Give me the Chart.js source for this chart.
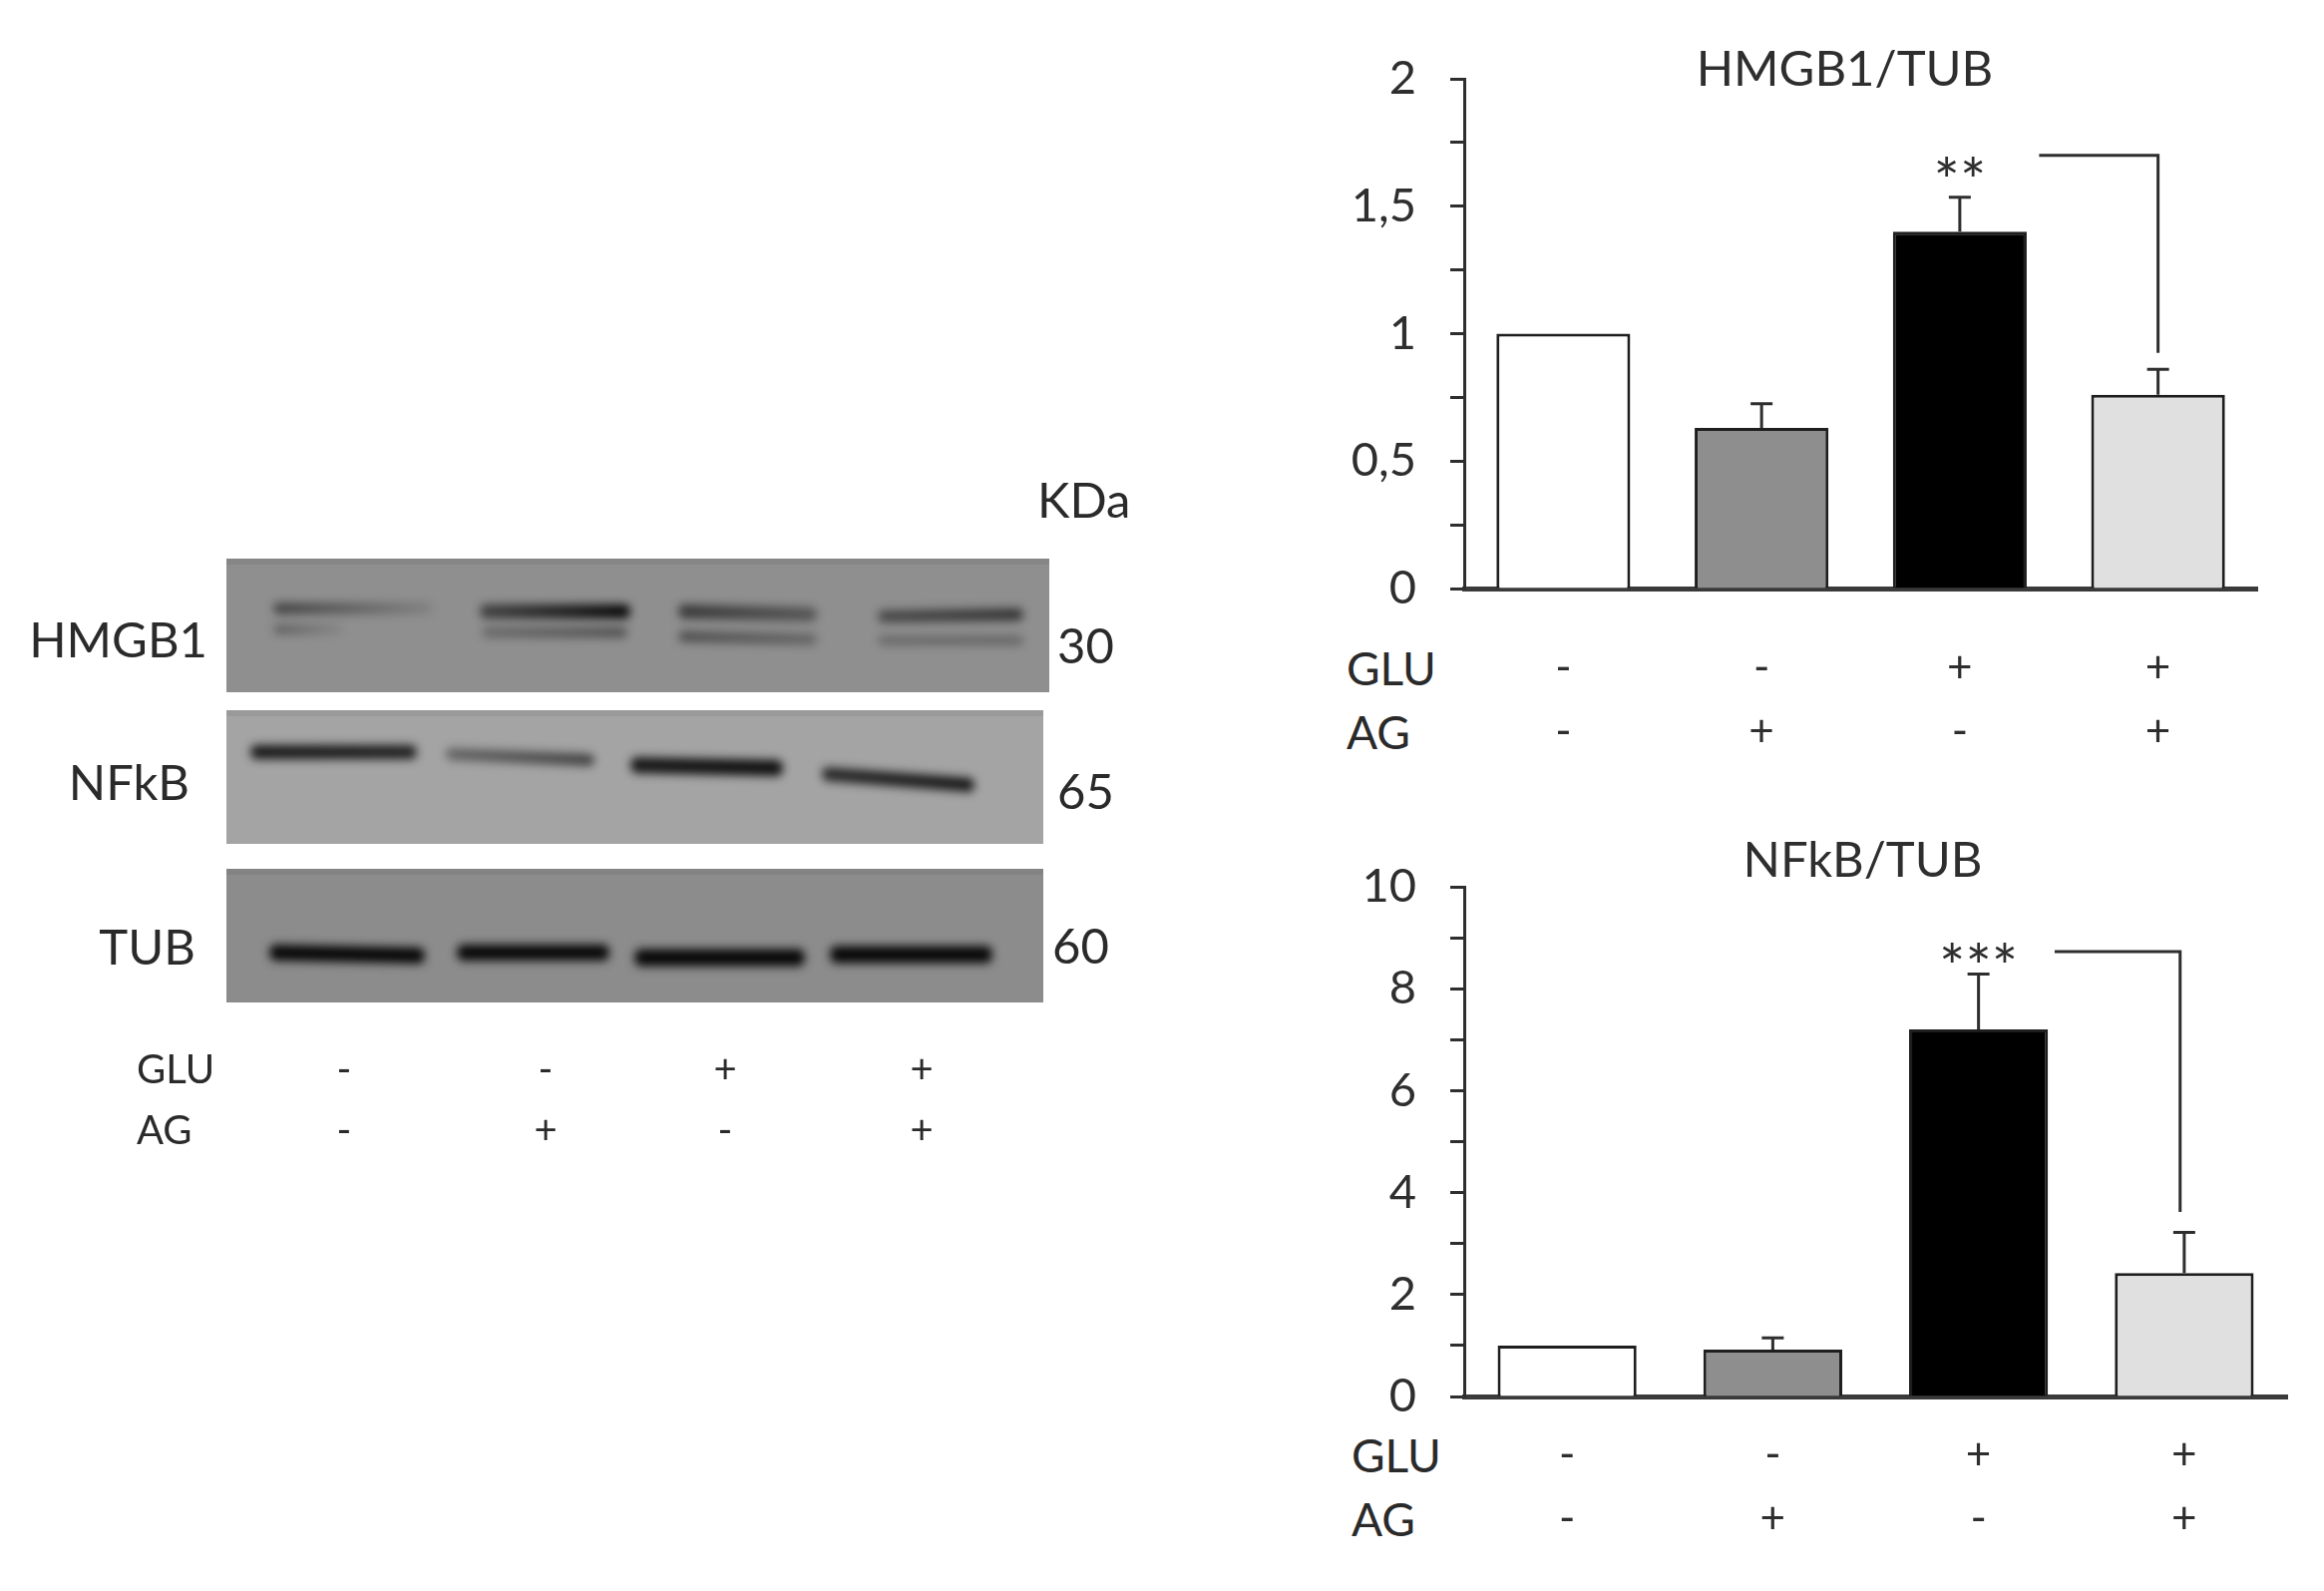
<!DOCTYPE html>
<html>
<head>
<meta charset="utf-8">
<script src="https://cdn.jsdelivr.net/npm/chart.js@4.4.1/dist/chart.umd.min.js"></script>
<style>
  body { margin: 0; width: 2330px; height: 1595px; background: #fff; position: relative; overflow: hidden;
         font-family: Lato, "Open Sans", sans-serif; color: #2a2a2a; }
  .lbl { position: absolute; font-size: 46px; line-height: 1; white-space: nowrap; transform: translateY(-50%); }
  .big { font-size: 49px; }
  .sm { font-size: 40px; }
  .r { text-align: right; }
  .c { transform: translate(-50%, -50%); }
  canvas { position: absolute; }
  #wrap1 { position: absolute; left: 1300px; top: 0; width: 1000px; height: 780px; }
  #wrap2 { position: absolute; left: 1300px; top: 800px; width: 1000px; height: 780px; }
</style>
</head>
<body>
<canvas id="blot" width="1160" height="1100" style="left:0;top:0"></canvas>
<div class="lbl big" style="left:1040px;top:500px">KDa</div>
<div class="lbl big r" style="right:2122px;top:640px">HMGB1</div>
<div class="lbl big r" style="right:2140px;top:783px">NFkB</div>
<div class="lbl big r" style="right:2134px;top:948px">TUB</div>
<div class="lbl big" style="left:1060px;top:646px">30</div>
<div class="lbl big" style="left:1060px;top:792px">65</div>
<div class="lbl big" style="left:1055px;top:947px">60</div>
<div class="lbl sm" style="left:137px;top:1071px">GLU</div>
<div class="lbl sm" style="left:137px;top:1132px">AG</div>
<div id="blotSigns"></div>

<div class="lbl" style="left:1350px;top:670px">GLU</div>
<div class="lbl" style="left:1350px;top:734px">AG</div>
<div class="lbl" style="left:1355px;top:1459px">GLU</div>
<div class="lbl" style="left:1355px;top:1523px">AG</div>

<div id="wrap1"><canvas id="c1"></canvas></div>
<div id="wrap2"><canvas id="c2"></canvas></div>

<script>
// treatment table
const glu = ['-', '-', '+', '+'];
const ag = ['-', '+', '-', '+'];

// HMGB1/TUB
const hmgbMean = [1.0, 0.63, 1.40, 0.76];
const hmgbSem = [0, 0.095, 0.135, 0.10];
const hmgbTicks = ['0', '0,5', '1', '1,5', '2'];

// NFkB/TUB
const nfkbMean = [1.0, 0.92, 7.2, 2.42];
const nfkbSem = [0, 0.23, 1.09, 0.8];
const nfkbTicks = ['0', '2', '4', '6', '8', '10'];

const barColors = ['#ffffff', '#8e8e8e', '#000000', '#e0e0e0'];
const ink = '#2e2e2e';
const font = 'Lato, "Open Sans", sans-serif';

const labels = glu.map((g, i) => [g, ag[i]]);

// western blot (picture, not data)
const blotLanes = [345, 547, 727, 924];
const signs = document.getElementById('blotSigns');
blotLanes.forEach((x, i) => {
  signs.insertAdjacentHTML('beforeend',
    `<div class="lbl sm c" style="left:${x}px;top:1071px">${glu[i]}</div>` +
    `<div class="lbl sm c" style="left:${x}px;top:1132px">${ag[i]}</div>`);
});

const g = document.getElementById('blot').getContext('2d');
const panels = [
  [227, 560, 825, 134, '#8f8f8f'],
  [227, 712, 819, 134, '#a4a4a4'],
  [227, 871, 819, 134, '#8c8c8c']
];
panels.forEach(([x, y, w, h, c]) => {
  g.fillStyle = c;
  g.fillRect(x, y, w, h);
  g.fillStyle = 'rgba(0,0,0,0.06)';
  g.fillRect(x, y, w, 6);
});
// x1, x2, centre y, height, darkness left, darkness right, drop at right end
const bands = [
  [278, 430, 610, 11, 0.55, 0.10, 0], [278, 340, 631, 9, 0.35, 0.08, 0],
  [485, 628, 613, 14, 0.55, 0.95, 0], [487, 625, 634, 10, 0.28, 0.45, 0],
  [684, 815, 613, 14, 0.6, 0.4, 3], [684, 815, 638, 11, 0.45, 0.3, 3],
  [884, 1022, 618, 12, 0.5, 0.65, -2], [884, 1022, 642, 9, 0.28, 0.3, 0],
  [255, 414, 754, 14, 0.85, 0.8, 0], [451, 592, 756, 12, 0.4, 0.6, 6],
  [636, 781, 767, 16, 0.85, 0.9, 3], [828, 973, 776, 14, 0.75, 0.85, 11],
  [274, 422, 955, 16, 0.95, 0.95, 3], [462, 607, 955, 16, 0.95, 0.95, 0],
  [640, 803, 960, 17, 0.95, 0.95, 0], [836, 991, 957, 17, 0.95, 0.95, 0]
];
g.filter = 'blur(5px)';
bands.forEach(([x1, x2, yc, h, a1, a2, d]) => {
  const grad = g.createLinearGradient(x1, 0, x2, 0);
  grad.addColorStop(0, `rgba(0,0,0,${a1})`);
  grad.addColorStop(1, `rgba(0,0,0,${a2})`);
  g.fillStyle = grad;
  g.beginPath();
  g.moveTo(x1, yc - h / 2);
  g.lineTo(x2, yc - h / 2 + d);
  g.quadraticCurveTo(x2 + 8, yc + d, x2, yc + h / 2 + d);
  g.lineTo(x1, yc + h / 2);
  g.quadraticCurveTo(x1 - 8, yc, x1, yc - h / 2);
  g.fill();
});
g.filter = 'none';

// error bars, bracket, stars and title
const extras = {
  id: 'extras',
  afterDatasetsDraw(chart, args, o) {
    const { ctx, chartArea, scales: { x, y } } = chart;
    const meta = chart.getDatasetMeta(0);
    const vals = chart.data.datasets[0].data;
    ctx.save();
    ctx.strokeStyle = ink;
    ctx.lineWidth = 3;
    o.sem.forEach((s, i) => {
      if (!s) return;
      const bx = meta.data[i].x;
      const y0 = y.getPixelForValue(vals[i]);
      const y1 = y.getPixelForValue(vals[i] + s);
      ctx.beginPath();
      ctx.moveTo(bx, y0); ctx.lineTo(bx, y1);
      ctx.moveTo(bx - 11, y1); ctx.lineTo(bx + 11, y1);
      ctx.stroke();
    });
    const b = o.bracket;
    ctx.beginPath();
    ctx.moveTo(x.getPixelForValue(b.from), y.getPixelForValue(b.top));
    ctx.lineTo(x.getPixelForValue(b.to), y.getPixelForValue(b.top));
    ctx.lineTo(x.getPixelForValue(b.to), y.getPixelForValue(b.bottom));
    ctx.stroke();
    ctx.fillStyle = ink;
    ctx.textAlign = 'center';
    ctx.textBaseline = 'alphabetic';
    ctx.font = `62px ${font}`;
    ctx.fillText(b.stars, x.getPixelForValue(b.at), y.getPixelForValue(b.top) + b.dy);
    ctx.font = `49px ${font}`;
    ctx.textBaseline = 'middle';
    ctx.fillText(o.title, (chartArea.left + chartArea.right) / 2 + o.titleDx, chartArea.top + o.titleDy);
    ctx.restore();
  }
};

function makeChart(id, mean, sem, yMax, step, tickLabels, labelEvery, pad, xH, extra) {
  return new Chart(document.getElementById(id), {
    type: 'bar',
    data: {
      labels: labels,
      datasets: [{
        data: mean,
        backgroundColor: barColors,
        borderColor: '#1e1e1e',
        borderWidth: 3,
        borderSkipped: 'start',
        barPercentage: 0.675,
        categoryPercentage: 1
      }]
    },
    options: {
      responsive: false,
      animation: false,
      devicePixelRatio: 1,
      layout: { padding: pad },
      plugins: { legend: { display: false }, tooltip: { enabled: false }, extras: extra },
      scales: {
        x: {
          offset: true,
          grid: { display: false, drawTicks: false },
          border: { display: true, color: '#3a3a3a', width: 5 },
          ticks: { color: ink, font: { family: font, size: 44, lineHeight: 64 / 44 }, padding: pad.tickPad, maxRotation: 0, autoSkip: false },
          afterFit: s => { s.height = xH; }
        },
        y: {
          min: 0, max: yMax,
          grid: { display: true, drawOnChartArea: false, drawTicks: true, tickLength: 14, tickWidth: 3, tickColor: ink },
          border: { display: true, color: ink, width: 3 },
          ticks: {
            stepSize: step, autoSkip: false, color: ink, padding: 34,
            font: { family: font, size: 47 },
            callback: v => {
              const k = Math.round(v / step);
              return k % labelEvery === 0 ? tickLabels[k / labelEvery] : '';
            }
          },
          afterFit: s => { s.width = 168; }
        }
      }
    },
    plugins: [extras]
  });
}

function sizeCanvas(id) {
  const c = document.getElementById(id);
  c.width = 1000; c.height = 780;
  c.style.width = '1000px'; c.style.height = '780px';
}
sizeCanvas('c1');
sizeCanvas('c2');

makeChart('c1', hmgbMean, hmgbSem, 2, 0.25, hmgbTicks, 2,
  { top: 79, right: 37, left: 0, bottom: 0, tickPad: 48 }, 190,
  { sem: hmgbSem, title: 'HMGB1/TUB', titleDx: -16, titleDy: -9,
    bracket: { from: 2.4, to: 3.0, top: 1.70, bottom: 0.925, stars: '**', at: 2, dy: 48 } });

makeChart('c2', nfkbMean, nfkbSem, 10, 1, nfkbTicks, 2,
  { top: 89, right: 7, left: 0, bottom: 0, tickPad: 27 }, 180,
  { sem: nfkbSem, title: 'NFkB/TUB', titleDx: -13, titleDy: -26,
    bracket: { from: 2.37, to: 2.98, top: 8.73, bottom: 3.62, stars: '***', at: 2, dy: 38 } });
</script>
</body>
</html>
